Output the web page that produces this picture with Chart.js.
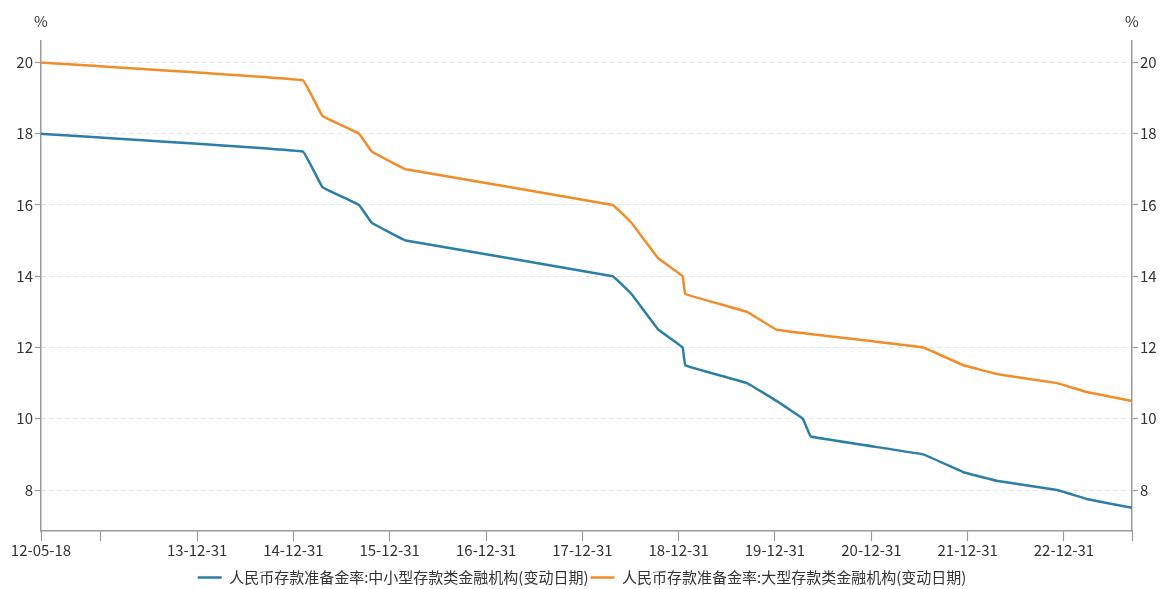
<!DOCTYPE html>
<html>
<head>
<meta charset="utf-8">
<script src="https://cdn.jsdelivr.net/npm/chart.js@4/dist/chart.umd.min.js"></script>
<style>
  html, body { margin: 0; padding: 0; background: #fff; }
  #wrap { width: 1164px; height: 589px; position: relative; }
</style>
</head>
<body>
<div id="wrap"><canvas id="c"></canvas></div>
<script>
// Change dates (effective) and reserve requirement ratios (%)
const dates = ['2012-05-18','2015-02-05','2015-04-20','2015-09-06','2015-10-24','2016-03-01',
  '2018-04-25','2018-07-05','2018-10-15','2019-01-15','2019-01-25','2019-09-16','2020-01-06',
  '2020-04-15','2020-05-15','2021-07-15','2021-12-15','2022-04-25','2022-12-05','2023-03-27','2023-09-15'];
const smallMid = [18.0,17.5,16.5,16.0,15.5,15.0,14.0,13.5,12.5,12.0,11.5,11.0,10.5,10.0,9.5,9.0,8.5,8.25,8.0,7.75,7.5];
const large    = [20.0,19.5,18.5,18.0,17.5,17.0,16.0,15.5,14.5,14.0,13.5,13.0,12.5,null,null,12.0,11.5,11.25,11.0,10.75,10.5];
const seriesNames = ['人民币存款准备金率:中小型存款类金融机构(变动日期)','人民币存款准备金率:大型存款类金融机构(变动日期)'];
const xTickDates = ['2012-05-18','2012-12-31','2013-12-31','2014-12-31','2015-12-31','2016-12-31','2017-12-31',
  '2018-12-31','2019-12-31','2020-12-31','2021-12-31','2022-12-31','2023-09-15'];
const xUnlabeled = ['2012-12-31','2023-09-15'];
const yTicks = [8,10,12,14,16,18,20];

const ts = d => Date.parse(d + 'T00:00:00Z');
const fmt = v => {
  const d = new Date(v);
  const yy = String(d.getUTCFullYear()).slice(2);
  const mm = String(d.getUTCMonth()+1).padStart(2,'0');
  const dd = String(d.getUTCDate()).padStart(2,'0');
  return yy + '-' + mm + '-' + dd;
};
const toPts = arr => dates.map((d,i) => ({x: ts(d), y: arr[i]}));

const FONT = '"Noto Sans CJK SC", "Open Sans", sans-serif';
const TXT = '#333';
const AXIS = '#9a9a9a';

const pctPlugin = {
  id: 'pct',
  afterDraw(chart) {
    const ctx = chart.ctx;
    ctx.save();
    ctx.font = '15px ' + FONT;
    ctx.fillStyle = TXT;
    ctx.textAlign = 'center';
    ctx.textBaseline = 'middle';
    ctx.fillText('%', chart.scales.y.right, 21);
    ctx.fillText('%', chart.scales.y2.left, 21);
    ctx.restore();
  }
};

const yCommon = (pos) => ({
  type: 'linear',
  position: pos,
  min: 6.85,
  max: 20.6,
  afterBuildTicks: s => { s.ticks = yTicks.map(v => ({value: v})); },
  ticks: { color: TXT, font: {family: FONT, size: 15}, padding: 2 },
  border: { display: true, color: AXIS, width: 1.5, dash: [4,4] },
  grid: {
    display: true,
    drawOnChartArea: pos === 'left',
    color: '#e2e2e2',
    lineWidth: 1,
    tickColor: AXIS,
    tickLength: 6,
    tickBorderDash: [],
    tickWidth: 1.2
  },
  afterFit: s => { s.width = pos === 'left' ? 41 : 32; }
});

new Chart(document.getElementById('c'), {
  type: 'line',
  data: {
    datasets: [
      { label: seriesNames[0], data: toPts(smallMid), borderColor: '#2b7fa6', backgroundColor: '#2b7fa6',
        borderWidth: 2.5, pointRadius: 0, tension: 0.05, spanGaps: true, yAxisID: 'y' },
      { label: seriesNames[1], data: toPts(large), borderColor: '#f28c28', backgroundColor: '#f28c28',
        borderWidth: 2.5, pointRadius: 0, tension: 0.05, spanGaps: true, yAxisID: 'y' }
    ]
  },
  options: {
    responsive: true,
    maintainAspectRatio: false,
    animation: false,
    layout: { padding: { top: 41, bottom: -6, left: 0, right: 0 } },
    plugins: {
      legend: {
        position: 'bottom',
        labels: { color: TXT, font: {family: FONT, size: 15}, usePointStyle: true, pointStyle: 'line',
                  pointStyleWidth: 24, boxHeight: 15, padding: 2 }
      },
      tooltip: { enabled: false }
    },
    scales: {
      x: {
        type: 'linear',
        min: ts(dates[0]),
        max: ts(dates[dates.length-1]),
        afterBuildTicks: s => { s.ticks = xTickDates.map(d => ({value: ts(d)})); },
        ticks: {
          autoSkip: false, maxRotation: 0, color: TXT, font: {family: FONT, size: 15}, padding: 0,
          callback: v => xUnlabeled.some(d => ts(d) === v) ? '' : fmt(v)
        },
        border: { display: true, color: AXIS, width: 1.5 },
        grid: { display: true, drawOnChartArea: false, tickColor: AXIS, tickLength: 10, tickWidth: 1.2 },
        afterFit: s => { s.height = 37; }
      },
      y: yCommon('left'),
      y2: yCommon('right')
    }
  },
  plugins: [pctPlugin]
});
</script>
</body>
</html>
